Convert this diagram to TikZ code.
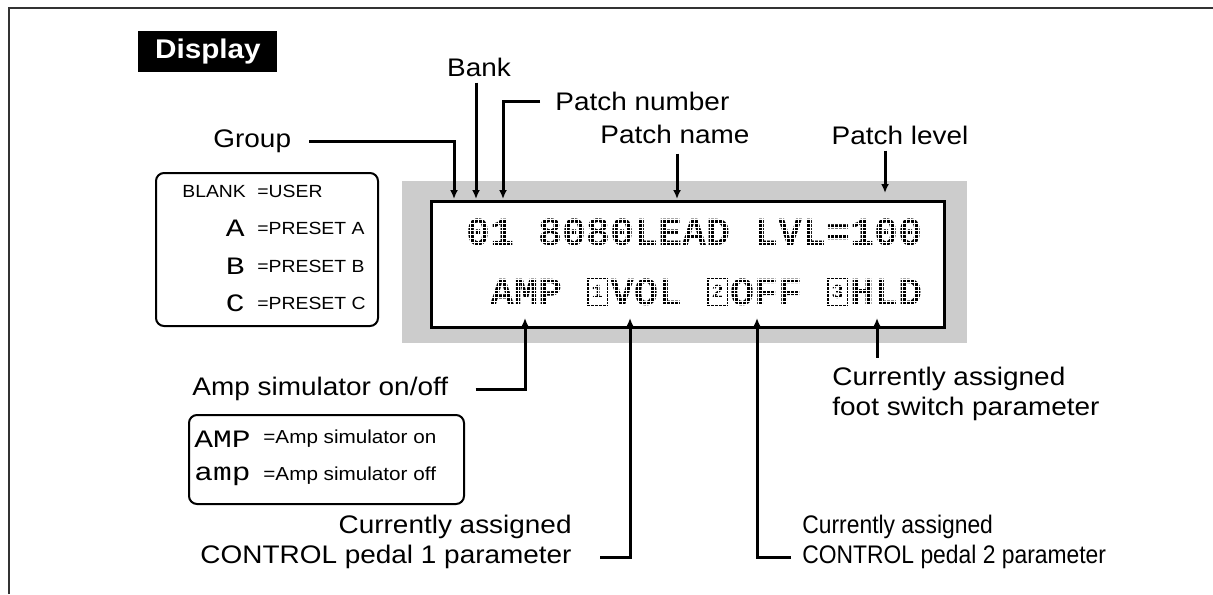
\documentclass[tikz,border=0pt]{standalone}
\usepackage{fontspec}
\setmainfont{Liberation Sans}
\newfontfamily\labelfont[FakeStretch=1.1]{Liberation Sans}
\newfontfamily\narrowlabelfont[FakeStretch=0.9]{Liberation Sans}
\newfontfamily\lcdfont{Liberation Mono}
\newfontfamily\lcdwidefont[FakeStretch=1.25]{Liberation Mono}
\usepackage{xcolor}
\definecolor{cFrame}{HTML}{333333}
\definecolor{cBezel}{HTML}{CCCCCC}
\usetikzlibrary{positioning,arrows.meta,calc}
\tikzset{
  frame-line/.style={draw=cFrame,line width=1pt},
  title-box/.style={fill=black,text=white,inner sep=0pt,
    minimum width=69.5pt,minimum height=20.5pt,
    font=\labelfont\bfseries\fontsize{13.5}{16}\selectfont},
  label-text/.style={inner sep=0pt,font=\labelfont\fontsize{12.7}{15}\selectfont},
  label-narrow/.style={inner sep=0pt,font=\narrowlabelfont\fontsize{12.7}{15}\selectfont},
  key-text/.style={inner sep=0pt,font=\labelfont\fontsize{8.8}{10}\selectfont},
  amp-text/.style={inner sep=0pt,font=\labelfont\fontsize{9.4}{11}\selectfont},
  key-lcd/.style={inner sep=0pt,font=\lcdwidefont\fontsize{12.5}{13}\selectfont},
  lcd-text/.style={inner sep=0pt,font=\lcdfont\bfseries\fontsize{20}{20}\selectfont},
  lcd-icon/.style={draw,line width=1.2pt,inner sep=0pt,
    minimum width=9.5pt,minimum height=13pt,
    font=\lcdfont\bfseries\fontsize{10}{10}\selectfont},
  dot-grid/.style={draw=white,line width=0.35pt},
  bezel/.style={fill=cBezel,inner sep=0pt},
  lcd/.style={draw=black,fill=white,line width=1.5pt,inner sep=0pt},
  legend-box/.style={draw=black,line width=1pt,rounded corners=4pt,inner sep=0pt},
  arrow/.style={-{Latex[length=4.5pt,width=4pt]},line width=1.5pt},
}

\begin{document}
\begin{tikzpicture}[x=0.5pt,y=-0.5pt]
  \useasboundingbox (0,0) rectangle (1213,594);
  \draw[frame-line] (9,594) -- (9,8) -- (1213,8);
  \node[title-box,anchor=north west] (title) at (138,31) {Display};

  % display window
  \node[bezel,anchor=north west,minimum width=282.5pt,minimum height=81pt]
    (bezel) at (402,181) {};
  \node[lcd,anchor=north west,minimum width=256.5pt,minimum height=63pt]
    (lcd) at (430,200) {};
  \node[lcd-text,anchor=base west] (row1) at (466,245) {01 8080LEAD LVL=100};
  \node[lcd-text,anchor=base west] (row2) at (490,305) {AMP~~VOL~~OFF~~HLD};
  \foreach \i/\n in {5/1,10/2,15/3}
    \node[lcd-icon] (icon\n) at ({468+24*\i+9.5},292) {\n};
  % dot matrix look
  \begin{scope}
    \clip (440,216) rectangle (930,248) (440,276) rectangle (930,308);
    \foreach \x in {466,470,...,930}
      \draw[dot-grid] (\x,216) -- (\x,308);
    \foreach \y in {216,219.7,...,308}
      \draw[dot-grid] (440,\y) -- (930,\y);
  \end{scope}

  % group key
  \node[legend-box,anchor=north west,minimum width=111pt,minimum height=76.5pt]
    (groupkey) at (155,172) {};
  \node[key-text,anchor=west] (kBlank) at (182,191) {BLANK};
  \node[key-text,anchor=west] (kUser) at (257,191) {=USER};
  \foreach \y/\ch in {228/A,266/B,303/C} {
    \node[key-lcd,anchor=east] (kIcon\ch) at (245,\y) {\ch};
    \node[key-text,anchor=west] (kPre\ch) at (257,\y) {=PRESET \ch};
  }

  % amp key
  \node[legend-box,anchor=north west,minimum width=137.5pt,minimum height=44.5pt]
    (ampkey) at (188,414) {};
  \node[key-lcd,anchor=west] (kAmpOn) at (194,439) {AMP};
  \node[amp-text,anchor=west] (kOn) at (263,439) {=Amp simulator on};
  \node[key-lcd,anchor=west] (kAmpOff) at (194,476) {amp};
  \node[amp-text,anchor=west] (kOff) at (263,476) {=Amp simulator off};

  % targets on the display
  \coordinate (tGroup)  at (454,199);
  \coordinate (tBank)   at (476,199);
  \coordinate (tPnum)   at (503,199);
  \coordinate (tPname)  at (677,199);
  \coordinate (tPlevel) at (885,193);
  \coordinate (tAmp)    at (525,318);
  \coordinate (tPedal1) at (630,318);
  \coordinate (tPedal2) at (757,318);
  \coordinate (tFoot)   at (877,318);

  % labels above
  \node[label-text,anchor=west] (group) at (213,141) {Group};
  \node[label-text] (bank) at (479,67) {Bank};
  \node[label-text,anchor=west] (pnum) at (555,101) {Patch number};
  \node[label-text] (pname) at (675,134) {Patch name};
  \node[label-text] (plevel) at (900,135) {Patch level};
  \draw[arrow] ([xshift=9pt]group.east) -| (tGroup);
  \draw[arrow] ([yshift=-3pt]bank.south -| tBank) -- (tBank);
  \draw[arrow] ([xshift=-7.5pt]pnum.west) -| (tPnum);
  \draw[arrow] ([yshift=-5pt]pname.south -| tPname) -- (tPname);
  \draw[arrow] ([yshift=-3pt]plevel.south -| tPlevel) -- (tPlevel);

  % labels below
  \node[label-text,anchor=west] (ampsim) at (192,389) {Amp simulator on/off};
  \node[label-text,align=right,anchor=east] (pedal1) at (572,542)
    {Currently assigned\\CONTROL pedal 1 parameter};
  \node[label-narrow,align=left,anchor=west] (pedal2) at (802,542)
    {Currently assigned\\CONTROL pedal 2 parameter};
  \node[label-text,align=left,anchor=west] (foot) at (832,394)
    {Currently assigned\\foot switch parameter};
  \draw[arrow] ([xshift=13.5pt]ampsim.east) -| (tAmp);
  \draw[arrow] ([xshift=14pt,yshift=-7.5pt]pedal1.east) -| (tPedal1);
  \draw[arrow] ([xshift=-5.5pt,yshift=-7.5pt]pedal2.west) -| (tPedal2);
  \draw[arrow] ([yshift=4.5pt]foot.north -| tFoot) -- (tFoot);
\end{tikzpicture}
\end{document}
